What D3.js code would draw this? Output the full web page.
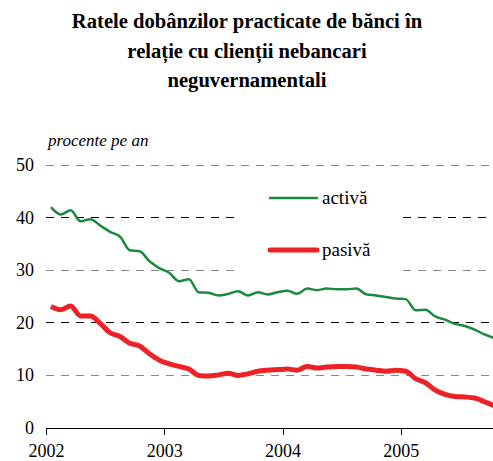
<!DOCTYPE html>
<meta charset="utf-8">
<style>
    body { margin: 0; background: #fff; }
    text { font-family: "Liberation Serif", "Times New Roman", serif; fill: #000; }
    .title { font-weight: bold; font-size: 20.6px; }
    .axis text { font-size: 18px; font-family: "Liberation Serif", "Times New Roman", serif; }
    .axis path, .axis line { stroke: #000; stroke-width: 1px; shape-rendering: crispEdges; }
</style>
<svg id="chart" width="493" height="461"></svg>
<script src="https://d3js.org/d3.v7.min.js"></script>
<script>

    // monthly series, Jan 2002 - Oct 2005 (% per year)
    var activa = [42.0, 40.6, 41.4, 39.3, 39.7, 38.5, 37.3, 36.4, 33.8, 33.6, 31.7, 30.4,
                  29.5, 27.9, 28.3, 25.8, 25.7, 25.2, 25.5, 26.0, 25.2, 25.8, 25.4, 25.8,
                  26.1, 25.5, 26.5, 26.2, 26.5, 26.4, 26.4, 26.5, 25.4, 25.2, 24.9, 24.6,
                  24.5, 22.4, 22.5, 21.2, 20.6, 19.8, 19.4, 18.7, 17.8, 17.1];
    var pasiva = [23.1, 22.5, 23.2, 21.3, 21.3, 19.9, 18.1, 17.4, 16.1, 15.6, 14.1, 12.9,
                  12.2, 11.7, 11.2, 10.0, 9.9, 10.1, 10.4, 10.0, 10.3, 10.8, 11.0, 11.1,
                  11.2, 11.0, 11.7, 11.4, 11.6, 11.7, 11.7, 11.6, 11.2, 11.0, 10.8, 11.0,
                  10.8, 9.4, 8.6, 7.2, 6.4, 6.0, 5.9, 5.7, 5.0, 4.2];
    var startYear = 2002;
    var yearTicks = [2002, 2003, 2004, 2005];
    var yTicks = [0, 10, 20, 30, 40, 50];
    var titleLines = ["Ratele dobânzilor practicate de bănci în", "relație cu clienții nebancari", "neguvernamentali"];

    var svg = d3.select("#chart");

    var x = d3.scaleLinear().domain([2002, 2006]).range([46, 519]);
    var y = d3.scaleLinear().domain([0, 50]).range([428, 165]);
    var monthX = (d, i) => x(startYear + (i + 0.5) / 12);

    // title
    svg.selectAll(".title")
        .data(titleLines)
        .enter()
        .append("text")
        .attr("class", "title")
        .attr("x", 247)
        .attr("y", (d, i) => 28 + i * 29.5)
        .attr("text-anchor", "middle")
        .text(d => d);

    svg.append("text")
        .attr("x", 48)
        .attr("y", 146)
        .style("font-style", "italic")
        .style("font-size", "17px")
        .text("procente pe an");

    // gridlines (40 and 30 are interrupted by the legend)
    var gap = [235, 403];
    yTicks.filter(d => d > 0).forEach(function(t) {
        var col = (t === 40 || t === 20) ? "#000" : "#888";
        var segs = (t === 40 || t === 30) ? [[46, gap[0]], [gap[1], 493]] : [[46, 493]];
        segs.forEach(function(s) {
            svg.append("line")
                .attr("x1", s[0]).attr("x2", s[1])
                .attr("y1", y(t)).attr("y2", y(t))
                .style("stroke", col)
                .style("stroke-width", 1)
                .style("stroke-dasharray", "8,7")
                .style("shape-rendering", "crispEdges");
        });
    });

    // y labels
    svg.append("g")
        .attr("class", "axis")
        .selectAll("text")
        .data(yTicks)
        .enter()
        .append("text")
        .attr("x", 34)
        .attr("y", d => y(d) + 6)
        .attr("text-anchor", "end")
        .text(d => d);

    // x axis
    var xAxis = d3.axisBottom(x).tickValues(yearTicks).tickFormat(d3.format("d")).tickSize(7).tickSizeOuter(0);
    var gx = svg.append("g")
        .attr("class", "axis")
        .attr("transform", "translate(0," + y(0) + ")")
        .call(xAxis);
    gx.attr("font-family", null);
    gx.select(".domain").attr("d", "M46,0.5H493");
    gx.selectAll("text").attr("dy", 0).attr("y", 29);

    var line = d3.line()
        .x(monthX)
        .y(d => y(d))
        .curve(d3.curveMonotoneX);

    svg.append("path")
        .datum(activa)
        .attr("d", line)
        .style("fill", "none")
        .style("stroke", "#1b8a3e")
        .style("stroke-width", 2.5);

    svg.append("path")
        .datum(pasiva)
        .attr("d", line)
        .style("fill", "none")
        .style("stroke", "#ee2126")
        .style("stroke-width", 5)
        .style("stroke-linejoin", "round");

    // legend
    var legend = [
        {name: "activă", color: "#1b8a3e", w: 2.5, y: 198},
        {name: "pasivă", color: "#ee2126", w: 5, y: 250}
    ];
    legend.forEach(function(l) {
        svg.append("line")
            .attr("x1", 270).attr("x2", 317)
            .attr("y1", l.y).attr("y2", l.y)
            .style("stroke", l.color)
            .style("stroke-width", l.w)
            .style("stroke-linecap", "round");
        svg.append("text")
            .attr("x", 322)
            .attr("y", l.y + 6)
            .style("font-size", "19px")
            .text(l.name);
    });

</script>
